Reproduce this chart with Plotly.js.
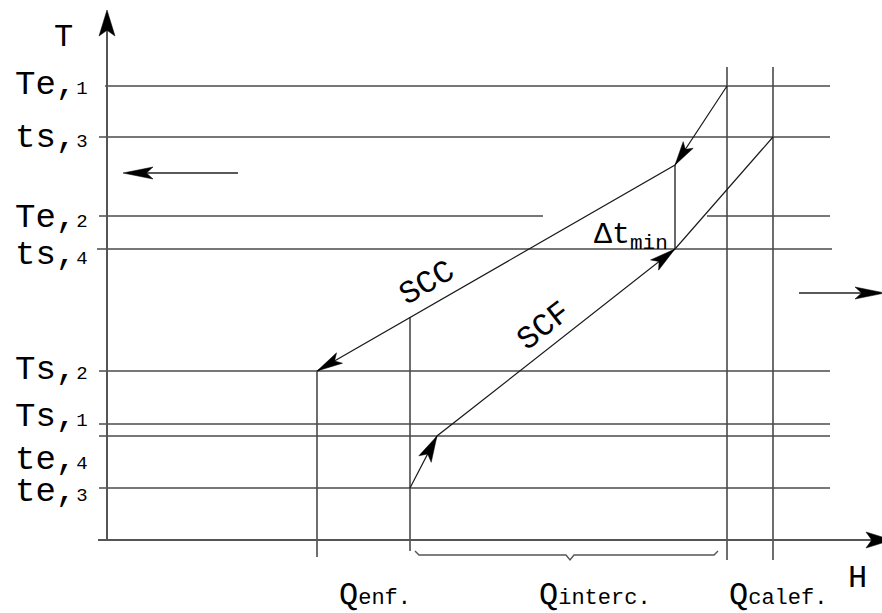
<!DOCTYPE html>
<html><head><meta charset="utf-8">
<script src="https://cdn.plot.ly/plotly-3.0.1.min.js"></script>
<style>html,body{margin:0;padding:0;background:#fff}#chart{width:882px;height:613px}</style>
</head><body><div id="chart"></div>
<script>
// ---- Data (H to the right, T upward; origin at the axes corner) ----
const levelNames = ["Te,1", "ts,3", "Te,2", "ts,4", "Ts,2", "Ts,1", "te,4", "te,3"];
const levelT     = [454, 403, 324, 291, 169, 116, 104, 52];
const levelFrom  = [-2, -8, -8, -10, -8, -8, -8, -8];
const levelTo    = [723, 723, 436, 725, 723, 723, 723, 723];
const labelT     = [455, 402, 322, 285, 170, 123, 80, 48];
const te2RightFrom = 600;   // Te,2 resumes right of the curves
const te2RightTo   = 723;

// Hot composite curve (SCC) and cold composite curve (SCF)
const hotH  = [620, 568, 210];
const hotT  = [454, 375, 169];
const coldH = [303, 330, 568, 666];
const coldT = [52, 104, 291, 403];

// Vertical enthalpy marks
const vertH    = [210, 303, 620, 666];
const vertLow  = [-17, -11, -20, -20];
const vertHigh = [169, 223, 473, 473];

// Axes extents
const axisTop   = 530;
const axisRight = 785;
const axisLeft  = -9;

// Direction arrows: [tailH, tailT, tipH, tipT]
const leftArrow  = [131, 367, 16, 367];
const rightArrow = [692, 247, 778, 247];

// Brace under Q interc.
const braceH = [308, 312, 459, 463, 467, 607, 611];
const braceT = [-11, -15, -15, -20, -15, -15, -11];

// Q labels
const qMain = ["enf.", "interc.", "calef."];
const qH    = [268, 488, 671];
const qT    = -55;

// ---- Build traces ----
const LINE = '#4a4a4a';
const CURVE = '#1a1a1a';
const traces = [];
function seg(x, y, color, w) {
  traces.push({type: 'scatter', mode: 'lines', x: x, y: y, hoverinfo: 'skip',
    line: {color: color, width: w}});
}
function head(tail, tip, L, W) {
  const dx = tip[0] - tail[0], dy = tip[1] - tail[1];
  const len = Math.hypot(dx, dy);
  const ux = dx / len, uy = dy / len, nx = -uy, ny = ux;
  const bx = tip[0] - ux * L, by = tip[1] - uy * L;
  const mx = tip[0] - ux * L * 0.78, my = tip[1] - uy * L * 0.78;
  traces.push({type: 'scatter', mode: 'lines', fill: 'toself', fillcolor: '#000',
    hoverinfo: 'skip', line: {color: '#000', width: 0.5},
    x: [tip[0], bx + nx * W / 2, mx, bx - nx * W / 2, tip[0]],
    y: [tip[1], by + ny * W / 2, my, by - ny * W / 2, tip[1]]});
}

// horizontal temperature levels
levelT.forEach((t, i) => seg([levelFrom[i], levelTo[i]], [t, t], LINE, 1.6));
seg([te2RightFrom, te2RightTo], [levelT[2], levelT[2]], LINE, 1.6);
// vertical marks
vertH.forEach((h, i) => seg([h, h], [vertLow[i], vertHigh[i]], LINE, 1.6));
// Δt min vertical
seg([hotH[1], hotH[1]], [coldT[2], hotT[1]], CURVE, 1.3);
// axes
seg([0, 0], [0, axisTop - 10], '#555', 2);
seg([axisLeft, axisRight - 10], [0, 0], '#555', 2);
head([0, 0], [0, axisTop], 26, 16);
head([0, 0], [axisRight, 0], 26, 16);
// composite curves
seg(hotH, hotT, CURVE, 1.2);
seg(coldH, coldT, CURVE, 1.2);
head([hotH[0], hotT[0]], [hotH[1], hotT[1]], 24, 12);
head([hotH[1], hotT[1]], [hotH[2], hotT[2]], 26, 12);
head([coldH[0], coldT[0]], [coldH[1], coldT[1]], 26, 14);
head([coldH[1], coldT[1]], [coldH[2], coldT[2]], 26, 13);
// direction arrows
seg([leftArrow[0], leftArrow[2] + 20], [leftArrow[1], leftArrow[3]], '#222', 1.6);
head([leftArrow[0], leftArrow[1]], [leftArrow[2], leftArrow[3]], 30, 12);
seg([rightArrow[0], rightArrow[2] - 20], [rightArrow[1], rightArrow[3]], '#222', 1.6);
head([rightArrow[0], rightArrow[1]], [rightArrow[2], rightArrow[3]], 30, 12);
// brace
seg(braceH, braceT, '#555', 1.4);

// ---- Text ----
const FONT = 'Liberation Mono, DejaVu Sans Mono, monospace';
const ann = [];
levelNames.forEach((n, i) => {
  ann.push({x: -17, y: labelT[i], xanchor: 'right', yanchor: 'middle', showarrow: false,
    text: n.slice(0, 3) + '<span style="font-size:19px">' + n.slice(3) + '</span>',
    font: {family: FONT, size: 34, color: '#000'}});
});
ann.push({x: -44, y: 503, text: 'T', showarrow: false, font: {family: FONT, size: 32, color: '#000'}});
ann.push({x: 750, y: -38, text: 'H', showarrow: false, font: {family: FONT, size: 32, color: '#000'}});
qMain.forEach((q, i) => {
  ann.push({x: qH[i], y: qT, showarrow: false,
    text: 'Q<span style="font-size:22px">' + q + '</span>',
    font: {family: FONT, size: 32, color: '#000'}});
});
ann.push({x: 320, y: 257, text: 'SCC', textangle: -30, showarrow: false,
  font: {family: FONT, size: 32, color: '#000'}});
ann.push({x: 437, y: 214, text: 'SCF', textangle: -38, showarrow: false,
  font: {family: FONT, size: 32, color: '#000'}});
ann.push({x: 524, y: 304, text: 'Δt<sub>min</sub>', showarrow: false,
  font: {family: FONT, size: 30, color: '#000'}});

const layout = {
  width: 882, height: 613, margin: {l: 0, r: 0, t: 0, b: 0},
  paper_bgcolor: '#fff', plot_bgcolor: '#fff', showlegend: false, hovermode: false,
  xaxis: {range: [-107, 775], visible: false, fixedrange: true},
  yaxis: {range: [-73, 540], visible: false, fixedrange: true},
  annotations: ann
};
Plotly.newPlot('chart', traces, layout, {staticPlot: true, displayModeBar: false});
</script></body></html>
